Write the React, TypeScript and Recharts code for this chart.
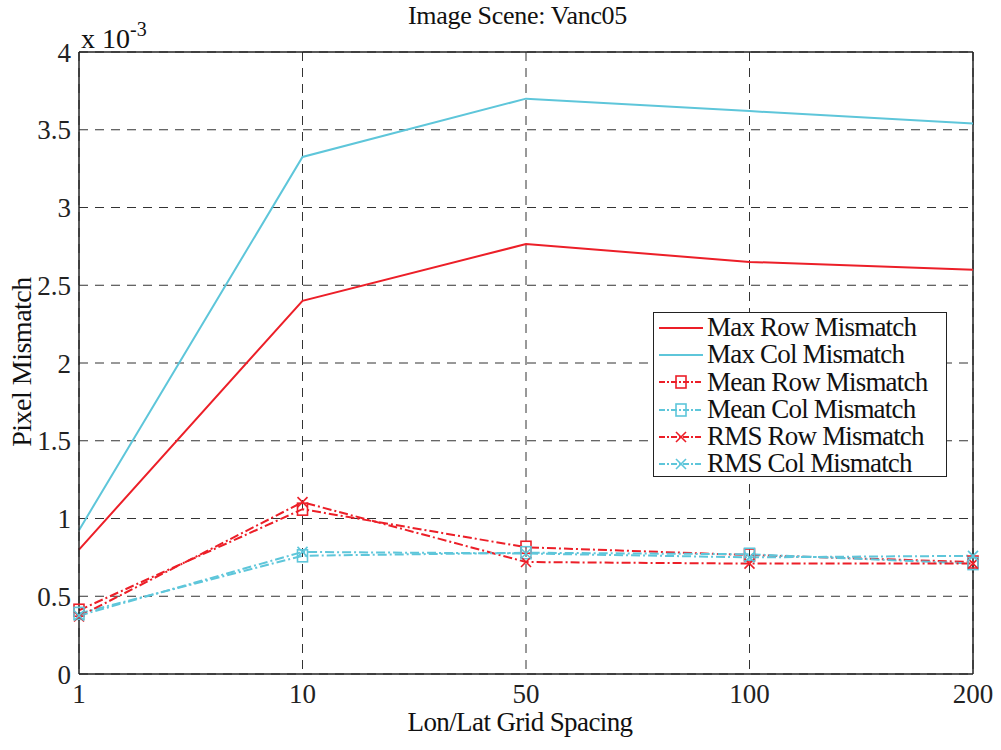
import { LineChart, Line, XAxis, YAxis, CartesianGrid, ReferenceLine } from "recharts";

// values are in units of 1e-3 (axis shows "x 10^-3")
const spacing = ["1", "10", "50", "100", "200"];
const maxRow = [0.8, 2.4, 2.765, 2.65, 2.6];
const maxCol = [0.925, 3.325, 3.7, 3.62, 3.54];
const meanRow = [0.41, 1.06, 0.815, 0.765, 0.72];
const meanCol = [0.39, 0.76, 0.78, 0.77, 0.71];
const rmsRow = [0.37, 1.105, 0.72, 0.71, 0.71];
const rmsCol = [0.375, 0.785, 0.775, 0.75, 0.76];
const yTicks = [0, 0.5, 1, 1.5, 2, 2.5, 3, 3.5, 4];

const RED = "#ec1f28";
const CYAN = "#5ec6da";
const FONT = "'Liberation Serif', 'DejaVu Serif', serif";
const DASHDOT = "9 3 2 3";

const data = spacing.map((s, i) => ({
  name: s,
  maxRow: maxRow[i],
  maxCol: maxCol[i],
  meanRow: meanRow[i],
  meanCol: meanCol[i],
  rmsRow: rmsRow[i],
  rmsCol: rmsCol[i],
}));

const series = [
  { key: "maxRow", label: "Max Row Mismatch", color: RED, dash: undefined, marker: "none" },
  { key: "maxCol", label: "Max Col Mismatch", color: CYAN, dash: undefined, marker: "none" },
  { key: "meanRow", label: "Mean Row Mismatch", color: RED, dash: DASHDOT, marker: "square" },
  { key: "meanCol", label: "Mean Col Mismatch", color: CYAN, dash: DASHDOT, marker: "square" },
  { key: "rmsRow", label: "RMS Row Mismatch", color: RED, dash: DASHDOT, marker: "cross" },
  { key: "rmsCol", label: "RMS Col Mismatch", color: CYAN, dash: DASHDOT, marker: "cross" },
];

function Marker({ cx, cy, color, kind }: { cx: number; cy: number; color: string; kind: string }) {
  if (kind === "square") {
    return <rect x={cx - 5} y={cy - 6} width={10} height={12} fill="none" stroke={color} strokeWidth={1.6} />;
  }
  if (kind === "cross") {
    return (
      <g stroke={color} strokeWidth={1.6}>
        <line x1={cx - 5} y1={cy - 5} x2={cx + 5} y2={cy + 5} />
        <line x1={cx - 5} y1={cy + 5} x2={cx + 5} y2={cy - 5} />
      </g>
    );
  }
  return null;
}

function LegendBox() {
  return (
    <div
      style={{
        position: "absolute",
        left: 653,
        top: 312,
        border: "1.5px solid #222",
        background: "#fff",
        width: 294,
        height: 165,
        boxSizing: "border-box",
        paddingTop: 1,
        fontFamily: FONT,
        fontSize: 27,
        color: "#111",
        lineHeight: "27.3px",
        letterSpacing: -0.8,
      }}
    >
      {series.map((s) => (
        <div key={s.key} style={{ display: "flex", alignItems: "center", whiteSpace: "nowrap" }}>
          <svg width={50} height={20} style={{ marginLeft: 3 }}>
            <line x1={2} y1={10} x2={46} y2={10} stroke={s.color} strokeWidth={2} strokeDasharray={s.dash ? "6 2 2 2" : undefined} />
            <Marker cx={24} cy={10} color={s.color} kind={s.marker} />
          </svg>
          <span>{s.label}</span>
        </div>
      ))}
    </div>
  );
}

export default function App() {
  return (
    <div style={{ position: "absolute", left: 0, top: 0, width: 1001, height: 750, background: "#fff" }}>
      <LineChart width={1001} height={750} data={data} margin={{ top: 52, right: 28, bottom: 36, left: 19 }}>
        <CartesianGrid stroke="#333" strokeDasharray="9 7" strokeWidth={1} />
        <XAxis
          dataKey="name"
          height={40}
          axisLine={{ stroke: "#222", strokeWidth: 1.5 }}
          tickLine={false}
          tickMargin={4}
          tick={{ fill: "#222", fontSize: 27, fontFamily: FONT }}
          interval={0}
        />
        <YAxis
          width={60}
          domain={[0, 4]}
          ticks={yTicks}
          axisLine={{ stroke: "#222", strokeWidth: 1.5 }}
          tickLine={false}
          tickMargin={2}
          tick={{ fill: "#222", fontSize: 27, fontFamily: FONT }}
          allowDataOverflow
        />
        <ReferenceLine y={4} stroke="#222" strokeWidth={1.5} />
        <ReferenceLine x="200" stroke="#222" strokeWidth={1.5} />
        {series.map((s) => (
          <Line
            key={s.key}
            dataKey={s.key}
            name={s.label}
            type="linear"
            stroke={s.color}
            strokeWidth={2}
            strokeDasharray={s.dash}
            isAnimationActive={false}
            dot={(p: any) => <Marker key={`${s.key}-${p.index}`} cx={p.cx} cy={p.cy} color={s.color} kind={s.marker} />}
            activeDot={false}
          />
        ))}
      </LineChart>
      <LegendBox />
      <div style={{ position: "absolute", left: 0, width: 1035, top: 1, textAlign: "center", fontFamily: FONT, fontSize: 26, color: "#111", letterSpacing: -0.3 }}>
        Image Scene: Vanc05
      </div>
      <div style={{ position: "absolute", left: 81, top: 18, fontFamily: FONT, fontSize: 28, color: "#111", whiteSpace: "nowrap" }}>
        x 10<sup style={{ fontSize: 20, verticalAlign: "12px" }}>-3</sup>
      </div>
      <div style={{ position: "absolute", left: 0, width: 1040, top: 707, textAlign: "center", fontFamily: FONT, fontSize: 27, color: "#111", letterSpacing: -0.6 }}>
        Lon/Lat Grid Spacing
      </div>
      <div
        style={{
          position: "absolute",
          left: 22,
          top: 362,
          transform: "translate(-50%, -50%) rotate(-90deg)",
          fontFamily: FONT,
          fontSize: 28,
          color: "#111",
          whiteSpace: "nowrap",
          letterSpacing: -0.5,
        }}
      >
        Pixel Mismatch
      </div>
    </div>
  );
}
